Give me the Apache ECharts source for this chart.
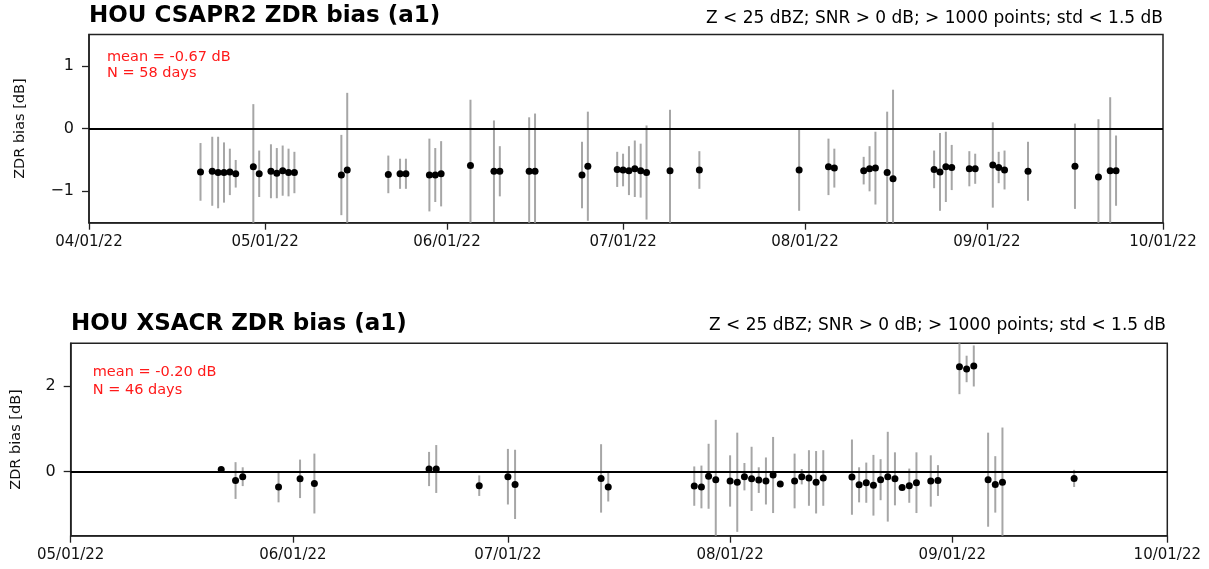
<!DOCTYPE html>
<html><head><meta charset="utf-8">
<script src="https://cdn.jsdelivr.net/npm/echarts@6/dist/echarts.min.js"></script>
<style>html,body{margin:0;padding:0;background:#fff}#c{width:1209px;height:569px}</style>
</head><body><div id="c"></div>
<script>
// ---------- data ----------
const csaprDates = ['2022-04-20','2022-04-22','2022-04-23','2022-04-24','2022-04-25','2022-04-26','2022-04-29','2022-04-30',
  '2022-05-02','2022-05-03','2022-05-04','2022-05-05','2022-05-06','2022-05-14','2022-05-15','2022-05-22','2022-05-24','2022-05-25',
  '2022-05-29','2022-05-30','2022-05-31','2022-06-05','2022-06-09','2022-06-10','2022-06-15','2022-06-16','2022-06-24','2022-06-25',
  '2022-06-30','2022-07-01','2022-07-02','2022-07-03','2022-07-04','2022-07-05','2022-07-09','2022-07-14','2022-07-31','2022-08-05',
  '2022-08-06','2022-08-11','2022-08-12','2022-08-13','2022-08-15','2022-08-16','2022-08-23','2022-08-24','2022-08-25','2022-08-26',
  '2022-08-29','2022-08-30','2022-09-02','2022-09-03','2022-09-04','2022-09-08','2022-09-16','2022-09-20','2022-09-22','2022-09-23'];
const csaprValues = [-0.69,-0.68,-0.70,-0.70,-0.69,-0.72,-0.61,-0.72,
  -0.68,-0.71,-0.67,-0.70,-0.70,-0.74,-0.66,-0.73,-0.72,-0.72,
  -0.74,-0.74,-0.72,-0.59,-0.68,-0.68,-0.68,-0.68,-0.74,-0.60,
  -0.65,-0.66,-0.67,-0.64,-0.67,-0.70,-0.67,-0.66,-0.66,-0.61,
  -0.63,-0.67,-0.64,-0.63,-0.70,-0.80,-0.65,-0.69,-0.61,-0.62,
  -0.64,-0.64,-0.58,-0.62,-0.66,-0.68,-0.60,-0.77,-0.67,-0.67];
const csaprErrors = [0.46,0.55,0.57,0.48,0.37,0.22,1.00,0.37,
  0.43,0.40,0.40,0.38,0.33,0.64,1.23,0.30,0.24,0.24,
  0.58,0.43,0.52,1.05,0.81,0.40,0.86,0.92,0.53,0.87,
  0.28,0.26,0.39,0.45,0.43,0.75,0.97,0.30,0.65,0.45,
  0.31,0.22,0.36,0.58,0.97,1.42,0.30,0.62,0.56,0.36,
  0.28,0.24,0.68,0.25,0.31,0.47,0.68,0.92,1.17,0.56];

const xsacrDates = ['2022-05-22','2022-05-24','2022-05-25','2022-05-30','2022-06-02','2022-06-04','2022-06-20','2022-06-21',
  '2022-06-27','2022-07-01','2022-07-02','2022-07-14','2022-07-15','2022-07-27','2022-07-28','2022-07-29','2022-07-30',
  '2022-08-01','2022-08-02','2022-08-03','2022-08-04','2022-08-05','2022-08-06','2022-08-07','2022-08-08','2022-08-10',
  '2022-08-11','2022-08-12','2022-08-13','2022-08-14','2022-08-18','2022-08-19','2022-08-20','2022-08-21','2022-08-22',
  '2022-08-23','2022-08-24','2022-08-25','2022-08-26','2022-08-27','2022-08-29','2022-08-30','2022-09-02','2022-09-03',
  '2022-09-04','2022-09-06','2022-09-07','2022-09-08','2022-09-18'];
const xsacrValues = [0.05,-0.21,-0.12,-0.36,-0.17,-0.28,0.06,0.06,
  -0.33,-0.12,-0.30,-0.16,-0.36,-0.34,-0.36,-0.11,-0.19,
  -0.22,-0.25,-0.12,-0.17,-0.20,-0.22,-0.08,-0.29,-0.22,
  -0.12,-0.15,-0.25,-0.15,-0.13,-0.31,-0.26,-0.32,-0.19,
  -0.12,-0.17,-0.37,-0.33,-0.26,-0.22,-0.21,2.45,2.40,
  2.47,-0.19,-0.30,-0.25,-0.16];
const xsacrErrors = [0.05,0.43,0.22,0.36,0.45,0.70,0.40,0.56,
  0.24,0.65,0.81,0.80,0.34,0.46,0.50,0.76,1.40,
  0.60,1.16,0.32,0.75,0.30,0.55,0.89,0.05,0.64,
  0.18,0.65,0.73,0.65,0.88,0.41,0.47,0.71,0.48,
  1.05,0.62,0.05,0.40,0.71,0.60,0.36,0.64,0.31,
  0.48,1.10,0.66,1.28,0.20];

const csaprXTicks = ['2022-04-01','2022-05-01','2022-06-01','2022-07-01','2022-08-01','2022-09-01','2022-10-01'];
const xsacrXTicks = ['2022-05-01','2022-06-01','2022-07-01','2022-08-01','2022-09-01','2022-10-01'];
const csaprYTicks = [-1, 0, 1];
const xsacrYTicks = [0, 2];
const csaprYRange = [-1.5, 1.5];
const xsacrYRange = [-1.5, 3];

const csaprTitle = 'HOU CSAPR2 ZDR bias (a1)';
const xsacrTitle = 'HOU XSACR ZDR bias (a1)';
const filterText = 'Z < 25 dBZ; SNR > 0 dB; > 1000 points; std < 1.5 dB';
const csaprStats = ['mean = -0.67 dB', 'N = 58 days'];
const xsacrStats = ['mean = -0.20 dB', 'N = 46 days'];
const yName = 'ZDR bias [dB]';

// ---------- helpers ----------
const FONT = '"DejaVu Sans", Verdana, sans-serif';
function ts(s){ const p = s.split('-').map(Number); return Date.UTC(p[0], p[1]-1, p[2]); }
function pad(n){ return (n < 10 ? '0' : '') + n; }
function fmtDate(v){ const d = new Date(v); return pad(d.getUTCMonth()+1) + '/' + pad(d.getUTCDate()) + '/' + String(d.getUTCFullYear()).slice(2); }
function fmtNum(v){ return v < 0 ? '\u2212' + Math.abs(v) : String(v); }

function xAxisCfg(idx, ticks){
  const vals = ticks.map(ts);
  return {
    type: 'value', gridIndex: idx, min: vals[0], max: vals[vals.length-1], position: 'bottom',
    axisLine: { show: true, onZero: false, lineStyle: { color: '#222', width: 1.5 } },
    axisTick: { show: true, customValues: vals, length: 7, inside: false, lineStyle: { color: '#222', width: 1.3 } },
    axisLabel: { customValues: vals, formatter: fmtDate, fontFamily: FONT, fontSize: 15, color: '#111', margin: 12 },
    splitLine: { show: false }
  };
}
function yAxisCfg(idx, range, ticks, gap){
  return {
    type: 'value', gridIndex: idx, min: range[0], max: range[1], position: 'left',
    name: yName, nameLocation: 'middle', nameRotate: 90, nameGap: gap,
    nameTextStyle: { fontFamily: FONT, fontSize: 14.5, color: '#111' },
    axisLine: { show: true, onZero: false, lineStyle: { color: '#222', width: 1.5 } },
    axisTick: { show: true, customValues: ticks, length: 7, inside: false, lineStyle: { color: '#222', width: 1.3 } },
    axisLabel: { customValues: ticks, formatter: fmtNum, fontFamily: FONT, fontSize: 16, color: '#111', margin: 15 },
    splitLine: { show: false }
  };
}
function errSeries(idx, dates, vals, errs, range){
  return {
    type: 'custom', xAxisIndex: idx, yAxisIndex: idx, silent: true, z: 2,
    encode: { x: 0, y: [1, 2] },
    data: dates.map((d, i) => [ts(d), Math.max(vals[i]-errs[i], range[0]), Math.min(vals[i]+errs[i], range[1])]),
    renderItem: function(params, api){
      const a = api.coord([api.value(0), api.value(1)]);
      const b = api.coord([api.value(0), api.value(2)]);
      return { type: 'line', shape: { x1: a[0], y1: a[1], x2: b[0], y2: b[1] }, style: { stroke: '#a6a6a6', lineWidth: 2 } };
    }
  };
}
function ptSeries(idx, dates, vals){
  return {
    type: 'scatter', xAxisIndex: idx, yAxisIndex: idx, z: 4, silent: true,
    symbol: 'circle', symbolSize: 7, itemStyle: { color: '#000', opacity: 1 },
    data: dates.map((d, i) => [ts(d), vals[i]]),
    markLine: { silent: true, symbol: 'none', label: { show: false }, animation: false,
      lineStyle: { color: '#000', width: 2, type: 'solid', opacity: 1 }, data: [{ yAxis: 0 }] }
  };
}
function txt(x, y, s, size, opts){
  return { type: 'text', x: x, y: y, silent: true, z: 10,
    style: { text: s, font: (opts && opts.bold ? 'bold ' : '') + size + 'px ' + FONT,
      fill: (opts && opts.color) || '#000', align: (opts && opts.align) || 'left', verticalAlign: 'middle' } };
}

const chart = echarts.init(document.getElementById('c'), null, { renderer: 'canvas' });
chart.setOption({
  animation: false,
  backgroundColor: '#fff',
  grid: [
    { left: 89, right: 46, top: 34.5, height: 188.2, show: true, borderColor: '#222', borderWidth: 1.5, backgroundColor: 'transparent', containLabel: false, outerBoundsMode: 'none' },
    { left: 70.7, right: 41.7, top: 343.3, height: 192.4, show: true, borderColor: '#222', borderWidth: 1.5, backgroundColor: 'transparent', containLabel: false, outerBoundsMode: 'none' }
  ],
  xAxis: [ xAxisCfg(0, csaprXTicks), xAxisCfg(1, xsacrXTicks) ],
  yAxis: [ yAxisCfg(0, csaprYRange, csaprYTicks, 61), yAxisCfg(1, xsacrYRange, xsacrYTicks, 47) ],
  series: [
    errSeries(0, csaprDates, csaprValues, csaprErrors, csaprYRange),
    ptSeries(0, csaprDates, csaprValues),
    errSeries(1, xsacrDates, xsacrValues, xsacrErrors, xsacrYRange),
    ptSeries(1, xsacrDates, xsacrValues)
  ],
  graphic: [
    txt(89, 16, csaprTitle, 23, { bold: true }),
    txt(1163, 18.5, filterText, 17, { align: 'right' }),
    txt(107, 57, csaprStats[0], 14.5, { color: '#ff1a1a' }),
    txt(107, 73.7, csaprStats[1], 14.5, { color: '#ff1a1a' }),
    txt(71, 324, xsacrTitle, 23, { bold: true }),
    txt(1166, 326, filterText, 17, { align: 'right' }),
    txt(92.7, 372, xsacrStats[0], 14.5, { color: '#ff1a1a' }),
    txt(92.7, 390, xsacrStats[1], 14.5, { color: '#ff1a1a' })
  ]
});
</script>
</body></html>
